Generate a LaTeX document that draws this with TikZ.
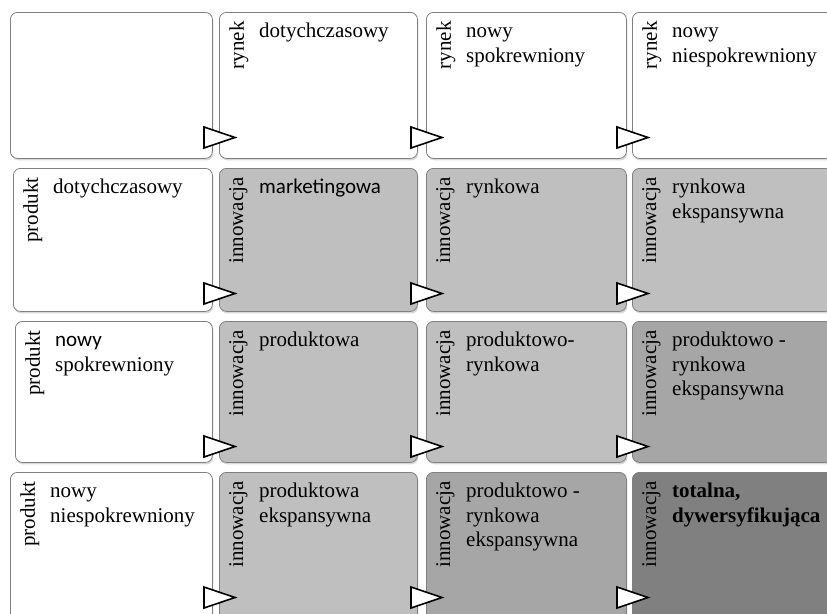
\documentclass[tikz,border=0pt]{standalone}
\usepackage{fontspec}
\setmainfont{Liberation Serif}
\newfontfamily\sansfont{Carlito}
\usetikzlibrary{shadows}

\definecolor{tintA}{gray}{0.75}
\definecolor{tintB}{gray}{0.65}
\definecolor{tintC}{gray}{0.50}
\definecolor{rimgray}{gray}{0.50}
\newcommand{\cellstrut}{\rule{0pt}{14.5pt}}

\tikzset{
  cell/.style 2 args={draw=rimgray, line width=0.8pt, rounded corners=7pt,
    anchor=north west, inner sep=0pt, minimum width=#1, minimum height=#2,
    drop shadow={shadow xshift=1pt, shadow yshift=-2pt, opacity=0.3}},
  side/.style={rotate=90, anchor=north east, inner sep=0pt,
    font=\fontsize{21}{24.5}\selectfont},
  title/.style={anchor=north west, inner sep=0pt, align=left,
    font=\fontsize{21}{24.5}\selectfont},
  pointer/.style={draw=black, fill=white, line width=1.6pt, line join=miter}
}

\begin{document}
\begin{tikzpicture}[x=1pt,y=-1pt]
        \clip (0,0) rectangle (827,613);
        \fill[white] (0,0) rectangle (827,613);
        % row 1
        \node[cell={202pt}{146pt}, fill=white] (c11) at (10,12) {};
        \node[cell={198pt}{146pt}, fill=white] (c12) at (219,12) {};
        \node[cell={200pt}{146pt}, fill=white] (c13) at (426,12) {};
        \node[cell={200pt}{146pt}, fill=white] (c14) at (632,12) {};
        % row 2
        \node[cell={199pt}{143pt}, fill=white] (c21) at (13,168) {};
        \node[cell={198pt}{143pt}, fill=tintA] (c22) at (219,168) {};
        \node[cell={200pt}{143pt}, fill=tintA] (c23) at (426,168) {};
        \node[cell={200pt}{143pt}, fill=tintA] (c24) at (632,168) {};
        % row 3
        \node[cell={197pt}{141pt}, fill=white] (c31) at (15,321) {};
        \node[cell={198pt}{141pt}, fill=tintA] (c32) at (219,321) {};
        \node[cell={200pt}{141pt}, fill=tintA] (c33) at (426,321) {};
        \node[cell={200pt}{141pt}, fill=tintB] (c34) at (632,321) {};
        % row 4
        \node[cell={202pt}{150pt}, fill=white] (c41) at (10,472) {};
        \node[cell={198pt}{150pt}, fill=tintA] (c42) at (219,472) {};
        \node[cell={200pt}{150pt}, fill=tintB] (c43) at (426,472) {};
        \node[cell={200pt}{150pt}, fill=tintC] (c44) at (632,472) {};
        % side labels
        \foreach \c in {c12,c13,c14}
            \node[side] (s\c) at ([shift={(10pt,-9pt)}]\c.north west) {rynek};
        \foreach \c in {c21,c31,c41}
            \node[side] (s\c) at ([shift={(10pt,-9pt)}]\c.north west) {produkt};
        \foreach \c in {c22,c23,c24,c32,c33,c34,c42,c43,c44}
            \node[side] (s\c) at ([shift={(10pt,-9pt)}]\c.north west) {innowacja};
        % titles
        \node[title] (t12) at ([shift={(40pt,-11pt)}]c12.north west) {\cellstrut dotychczasowy};
        \node[title] (t13) at ([shift={(40pt,-11pt)}]c13.north west) {\cellstrut nowy\\spokrewniony};
        \node[title] (t14) at ([shift={(40pt,-11pt)}]c14.north west) {\cellstrut nowy\\niespokrewniony};
        \node[title] (t21) at ([shift={(40pt,-11pt)}]c21.north west) {\cellstrut dotychczasowy};
        \node[title] (t22) at ([shift={(40pt,-11pt)}]c22.north west) {\cellstrut\sansfont marketingowa};
        \node[title] (t23) at ([shift={(40pt,-11pt)}]c23.north west) {\cellstrut rynkowa};
        \node[title] (t24) at ([shift={(40pt,-11pt)}]c24.north west) {\cellstrut rynkowa\\ekspansywna};
        \node[title] (t31) at ([shift={(40pt,-11pt)}]c31.north west) {\cellstrut{\sansfont nowy}\\spokrewniony};
        \node[title] (t32) at ([shift={(40pt,-11pt)}]c32.north west) {\cellstrut produktowa};
        \node[title] (t33) at ([shift={(40pt,-11pt)}]c33.north west) {\cellstrut produktowo-\\rynkowa};
        \node[title] (t34) at ([shift={(40pt,-11pt)}]c34.north west) {\cellstrut produktowo -\\rynkowa\\ekspansywna};
        \node[title] (t41) at ([shift={(40pt,-11pt)}]c41.north west) {\cellstrut nowy\\niespokrewniony};
        \node[title] (t42) at ([shift={(40pt,-11pt)}]c42.north west) {\cellstrut produktowa\\ekspansywna};
        \node[title] (t43) at ([shift={(40pt,-11pt)}]c43.north west) {\cellstrut produktowo -\\rynkowa\\ekspansywna};
        \node[title, font=\fontsize{21}{24.5}\selectfont\bfseries] (t44) at ([shift={(40pt,-11pt)}]c44.north west) {\cellstrut totalna,\\dywersyfikująca};
        % pointers
        \foreach \c in {c12,c13,c14,c22,c23,c24,c32,c33,c34,c42,c43,c44}
            \draw[pointer] ([shift={(-15pt,-115pt)}]\c.north west) -- ++(0pt,-21pt)
                -- ++(31pt,10.5pt) -- cycle;
    \end{tikzpicture}
\end{document}
